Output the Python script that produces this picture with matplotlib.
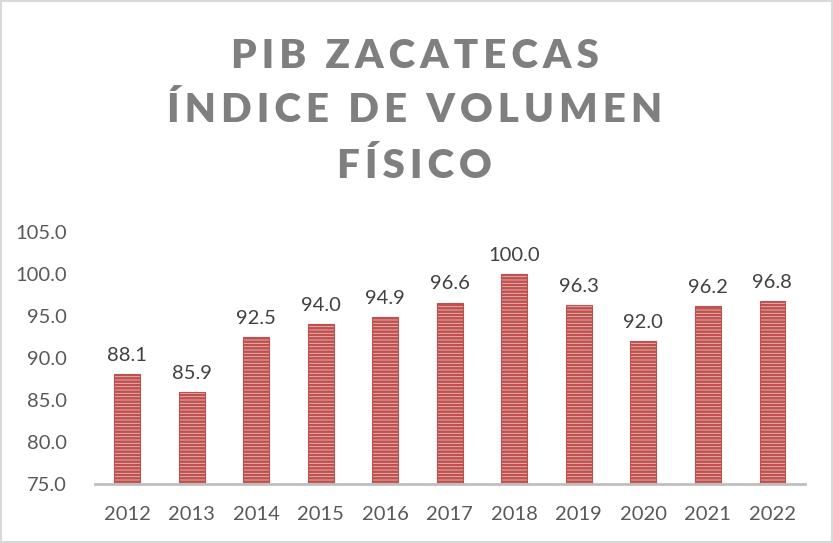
import matplotlib.pyplot as plt
from matplotlib.patches import Rectangle

years = ["2012", "2013", "2014", "2015", "2016", "2017", "2018", "2019", "2020", "2021", "2022"]
values = [88.1, 85.9, 92.5, 94.0, 94.9, 96.6, 100.0, 96.3, 92.0, 96.2, 96.8]
title_lines = ["PIB ZACATECAS", "ÍNDICE DE VOLUMEN", "FÍSICO"]
yticks = [75, 80, 85, 90, 95, 100, 105]

plt.rcParams['font.family'] = ['Lato', 'DejaVu Sans']
plt.rcParams['hatch.linewidth'] = 1.8
plt.rcParams['hatch.color'] = '#c0504d'

fig = plt.figure(figsize=(8.33, 5.43), dpi=100)
ax = fig.add_axes([0.114, 0.1087, 0.852, 0.464])

x = list(range(len(years)))
ax.bar(x, values, width=0.4, bottom=0, color='#e8c0bf', edgecolor='#c0504d',
       linewidth=0.8, hatch='-----', zorder=2)

for xi, v in zip(x, values):
    ax.text(xi, v + 1.2, "%.1f" % v, ha='center', va='bottom', fontsize=14.5, color='#404040')

ax.set_xlim(-0.5, len(years) - 0.5)
ax.set_ylim(75, 105)
ax.set_yticks(yticks)
ax.set_yticklabels(["%.1f" % t for t in yticks])
ax.set_xticks(x)
ax.set_xticklabels(years)
ax.tick_params(axis='both', length=0, labelsize=14.5, labelcolor='#595959')
ax.tick_params(axis='x', pad=16)
ax.tick_params(axis='y', pad=20)
for s in ['top', 'right', 'left']:
    ax.spines[s].set_visible(False)
ax.spines['bottom'].set_color('#bfbfbf')
ax.spines['bottom'].set_linewidth(2)

# title, one line at a time with wide letter spacing
def spaced(s):
    return "\u2009".join(s)

for i, line in enumerate(title_lines):
    fig.text(0.498, 1 - (56 + i * 55) / 543.0, spaced(line), ha='center', va='center',
             fontsize=29, fontweight='heavy', color='#7f7f7f')

fig.patches.append(Rectangle((0.001, 0.001), 0.998, 0.998, transform=fig.transFigure,
                             fill=False, edgecolor='#d9d9d9', linewidth=1.5))

fig.savefig("out.png", dpi=100)
